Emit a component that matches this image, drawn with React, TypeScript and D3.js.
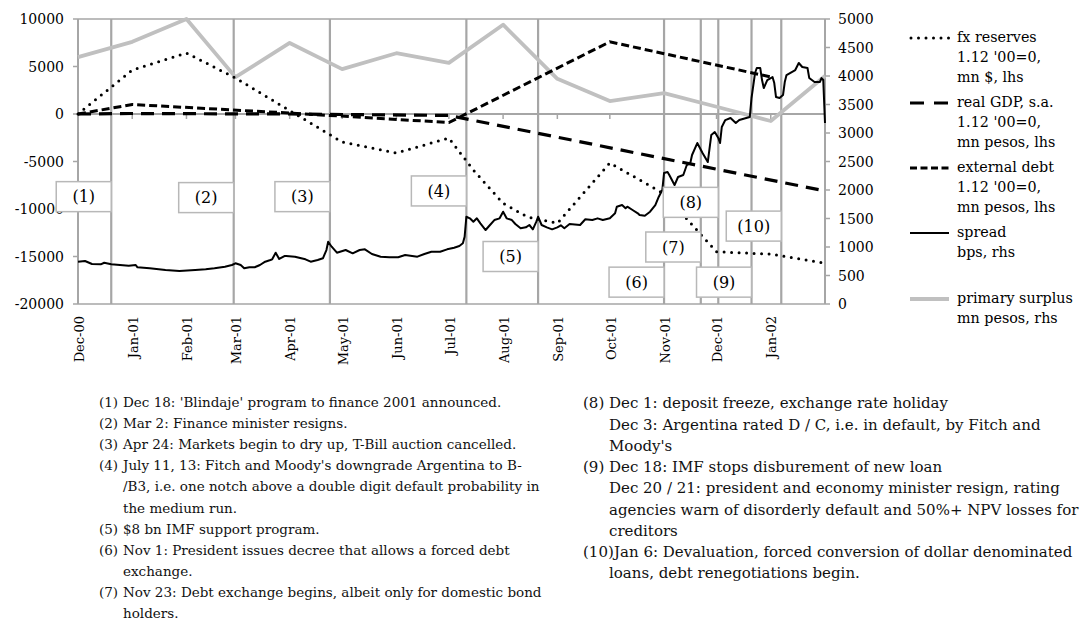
import React from "react";
import * as d3 from "d3";

// ---------- DATA ----------
const BASE = "2000-12-01";
const AXIS_END = "2002-02-01";

const xTickDates = ["2000-12-01","2001-01-01","2001-02-01","2001-03-01","2001-04-01","2001-05-01","2001-06-01","2001-07-01","2001-08-01","2001-09-01","2001-10-01","2001-11-01","2001-12-01","2002-01-01"];
const xTickLabels = ["Dec-00","Jan-01","Feb-01","Mar-01","Apr-01","May-01","Jun-01","Jul-01","Aug-01","Sep-01","Oct-01","Nov-01","Dec-01","Jan-02"];

const leftTicks = [-20000, -15000, -10000, -5000, 0, 5000, 10000];
const rightTicks = [0, 500, 1000, 1500, 2000, 2500, 3000, 3500, 4000, 4500, 5000];

// fx reserves, 1.12 '00 = 0, mn $ (lhs)
const fxDates = ["2000-12-01","2001-01-01","2001-02-01","2001-03-01","2001-04-01","2001-05-01","2001-06-01","2001-07-01","2001-07-15","2001-08-01","2001-08-15","2001-09-01","2001-10-01","2001-11-01","2001-12-01","2002-01-01","2002-02-01"];
const fxValues = [0, 4630, 6420, 3790, 360, -2950, -4100, -2530, -5900, -9400, -10850, -11500, -5150, -8400, -14500, -14750, -15700];

// real GDP, s.a., 1.12 '00 = 0, mn pesos (lhs)
const gdpDates = ["2000-12-01","2001-01-01","2001-04-01","2001-07-01","2002-02-01"];
const gdpValues = [0, 50, 0, -150, -8100];

// external debt, 1.12 '00 = 0, mn pesos (lhs)
const debtDates = ["2000-12-01","2001-01-01","2001-04-01","2001-07-01","2001-10-01","2002-01-01"];
const debtValues = [0, 1000, 100, -900, 7600, 3900];

// primary surplus, mn pesos (rhs)
const surplusDates = ["2000-12-01","2001-01-01","2001-02-01","2001-03-01","2001-04-01","2001-05-01","2001-06-01","2001-07-01","2001-08-01","2001-09-01","2001-10-01","2001-11-01","2001-12-01","2002-01-01","2002-02-01"];
const surplusValues = [4330, 4600, 5000, 3980, 4580, 4120, 4400, 4230, 4900, 3950, 3560, 3700, 3460, 3210, 4000];

// spread, bps (rhs): day offset from 1 Dec 2000
const spreadDays = [0,4,8,13,15,19,24,29,33,34,41,50,58,67,73,78,84,88,90,93,95,98,101,104,107,110,111,113,115,118,119,124,130,133,137,140,142,143,145,148,153,157,161,164,168,173,178,183,187,191,194,198,202,207,211,215,218,220,221,222,224,226,228,230,233,235,238,241,243,245,248,250,253,256,258,260,262,263,265,268,271,274,276,278,281,287,290,294,297,300,304,307,308,311,313,314,317,320,321,324,327,330,332,334,335,337,338,341,343,346,348,350,351,354,357,360,362,364,366,367,368,370,373,376,378,382,384,385,387,388,390,391,392,394,397,398,399,401,403,404,405,408,410,412,414,417,418,421,424,425,426,427];
const spreadValues = [742,754,702,696,724,696,684,672,684,644,626,596,579,596,609,626,654,684,714,684,626,644,644,684,742,772,784,900,790,842,842,830,784,742,772,802,947,1093,1005,900,947,889,947,959,877,830,819,819,859,842,830,877,917,917,959,987,1017,1065,1180,1531,1503,1444,1503,1415,1298,1368,1473,1503,1619,1503,1473,1403,1328,1345,1386,1310,1444,1531,1386,1345,1310,1345,1380,1330,1403,1386,1486,1473,1503,1473,1503,1591,1707,1736,1679,1707,1649,1591,1561,1549,1619,1736,1882,2000,2298,2315,2263,2087,2228,2263,2438,2473,2614,2824,2649,2491,2965,3017,2912,2824,3105,3227,3263,3175,3227,3263,3280,3614,4052,4140,4140,3929,3789,3929,3982,3876,3631,3614,3666,3894,4017,4070,4105,4228,4158,4140,3964,3894,3894,3964,3930,3175];

// event markers
const eventDates = ["2000-12-20","2001-02-28","2001-04-24","2001-07-11","2001-08-21","2001-11-01","2001-11-22","2001-12-02","2001-12-21","2002-01-07"];
const eventLabels = ["(1)","(2)","(3)","(4)","(5)","(6)","(7)","(8)","(9)","(10)"];
const eventBoxLevels = [-8700, -8800, -8700, -8100, -15000, -17700, -14000, -9300, -17700, -11800];

const legendItems = [
  { key: "fx", lines: ["fx reserves", "1.12 '00=0,", "mn $, lhs"] },
  { key: "gdp", lines: ["real GDP, s.a.", "1.12 '00=0,", "mn pesos, lhs"] },
  { key: "debt", lines: ["external debt", "1.12 '00=0,", "mn pesos, lhs"] },
  { key: "spread", lines: ["spread", "bps, rhs"] },
  { key: "surplus", lines: ["primary surplus", "mn pesos, rhs"] },
];

const notesLeft: [string, string[]][] = [
  ["(1)", ["Dec 18: 'Blindaje' program to finance 2001 announced."]],
  ["(2)", ["Mar 2: Finance minister resigns."]],
  ["(3)", ["Apr 24: Markets begin to dry up, T-Bill auction cancelled."]],
  ["(4)", ["July 11, 13: Fitch and Moody's downgrade Argentina to B-", "/B3, i.e. one notch above a double digit default probability in", "the medium run."]],
  ["(5)", ["$8 bn IMF support program."]],
  ["(6)", ["Nov 1: President issues decree that allows a forced debt", "exchange."]],
  ["(7)", ["Nov 23: Debt exchange begins, albeit only for domestic bond", "holders."]],
];
const notesRight: [string, string[]][] = [
  ["(8)", ["Dec 1: deposit freeze, exchange rate holiday", "Dec 3: Argentina rated D / C, i.e. in default, by Fitch and", "Moody's"]],
  ["(9)", ["Dec 18: IMF stops disburement of new loan", "Dec 20 / 21: president and economy minister resign, rating", "agencies warn of disorderly default and 50%+ NPV losses for", "creditors"]],
  ["(10)", ["Jan 6: Devaluation, forced conversion of dollar denominated", "loans, debt renegotiations begin."]],
];

// ---------- STYLE ----------
const FONT = "'DejaVu Serif', serif";
const GRID = "#a6a6a6";
const SURPLUS = "#c0c0c0";

const parse = d3.utcParse("%Y-%m-%d");

export default function App() {
  const L = 78, R = 825, T = 19, B = 304;
  const x = d3.scaleUtc().domain([parse(BASE)!, parse(AXIS_END)!]).range([L, R]);
  const yL = d3.scaleLinear().domain([-20000, 10000]).range([B, T]);
  const yR = d3.scaleLinear().domain([0, 5000]).range([B, T]);

  const lineL = d3.line<[Date, number]>().x(d => x(d[0])).y(d => yL(d[1]));
  const lineR = d3.line<[Date, number]>().x(d => x(d[0])).y(d => yR(d[1]));

  const zip = (ds: string[], vs: number[]) => ds.map((d, i) => [parse(d)!, vs[i]] as [Date, number]);
  const base = parse(BASE)!;
  const spread = spreadDays.map((d, i) => [d3.utcDay.offset(base, d), spreadValues[i]] as [Date, number]);

  const y0 = yL(0);

  const legendX0 = 910, legendX1 = 949, legendTX = 957;
  const legendStarts = [37, 102, 167, 232, 298];
  const legendLH = 20;

  const renderNotes = (notes: [string, string[]][], nx: number, tx: number, top: number, lh: number, tx10: number) => {
    let r = 0;
    const out: JSX.Element[] = [];
    notes.forEach(([num, lines], i) => {
      lines.forEach((ln, j) => {
        const yy = top + (r + j) * lh;
        if (j === 0) out.push(<text key={`n${i}`} x={nx} y={yy} dy="0.36em">{num}</text>);
        out.push(<text key={`t${i}-${j}`} x={num === "(10)" && j === 0 ? tx10 : tx} y={yy} dy="0.36em">{ln}</text>);
      });
      r += lines.length;
    });
    return out;
  };

  return (
    <div style={{ position: "absolute", left: 0, top: 0 }}>
      <svg width={1091} height={620} style={{ display: "block", background: "#fff" }} fontFamily={FONT}>
        {/* plot frame */}
        <line x1={L} x2={R} y1={T} y2={T} stroke={GRID} strokeWidth={1.5} />
        <line x1={L} x2={R} y1={B} y2={B} stroke={GRID} strokeWidth={1.5} />
        <line x1={L} x2={L} y1={T} y2={B} stroke={GRID} strokeWidth={2} />
        <line x1={R} x2={R} y1={T} y2={B} stroke={GRID} strokeWidth={2} />
        {/* zero axis */}
        <line x1={L} x2={R} y1={y0} y2={y0} stroke={GRID} strokeWidth={2} />
        {xTickDates.slice(1).map(d => (
          <line key={d} x1={x(parse(d)!)} x2={x(parse(d)!)} y1={y0} y2={y0 + 5} stroke={GRID} strokeWidth={1.5} />
        ))}
        {/* left axis */}
        {leftTicks.map(v => (
          <g key={v}>
            <line x1={L - 5} x2={L} y1={yL(v)} y2={yL(v)} stroke={GRID} strokeWidth={1.5} />
            <text x={64} y={yL(v)} dy="0.36em" textAnchor="end" fontSize={14} fill="#000">{v}</text>
          </g>
        ))}
        {/* right axis */}
        {rightTicks.map(v => (
          <g key={v}>
            <line x1={R} x2={R + 5} y1={yR(v)} y2={yR(v)} stroke={GRID} strokeWidth={1.5} />
            <text x={838} y={yR(v)} dy="0.36em" textAnchor="start" fontSize={14} fill="#000">{v}</text>
          </g>
        ))}
        {/* x labels */}
        {xTickDates.map((d, i) => (
          <text key={d} transform={`translate(${x(parse(d)!) + 1},${316}) rotate(-90)`} textAnchor="end" dy="0.36em" fontSize={13}>{xTickLabels[i]}</text>
        ))}
        {/* event lines */}
        {eventDates.map(d => (
          <line key={d} x1={x(parse(d)!)} x2={x(parse(d)!)} y1={T} y2={B} stroke={GRID} strokeWidth={2.2} />
        ))}
        {/* series */}
        <path d={lineR(zip(surplusDates, surplusValues))!} fill="none" stroke={SURPLUS} strokeWidth={3.8} strokeLinejoin="round" />
        <path d={lineL(zip(gdpDates, gdpValues))!} fill="none" stroke="#000" strokeWidth={3.2} strokeDasharray="13 8" />
        <path d={lineL(zip(debtDates, debtValues))!} fill="none" stroke="#000" strokeWidth={3} strokeDasharray="8 4" />
        <path d={lineL(zip(fxDates, fxValues))!} fill="none" stroke="#000" strokeWidth={3} strokeDasharray="0 7.5" strokeLinecap="round" />
        <path d={lineR(spread)!} fill="none" stroke="#000" strokeWidth={2} strokeLinejoin="round" />
        {/* event boxes */}
        {eventDates.map((d, i) => {
          const ex = x(parse(d)!);
          const cy = yL(eventBoxLevels[i]);
          return (
            <g key={`b${d}`}>
              <rect x={ex - 55} y={cy - 15} width={55} height={30} fill="#fff" stroke="#b8b8b8" strokeWidth={1.5} />
              <text x={ex - 27.5} y={cy} dy="0.36em" textAnchor="middle" fontSize={16}>{eventLabels[i]}</text>
            </g>
          );
        })}
        {/* legend */}
        {legendItems.map((it, i) => {
          const ly = legendStarts[i];
          const sy = ly + 1;
          let sample: JSX.Element;
          if (it.key === "fx") sample = <line x1={legendX0 + 1} x2={legendX1} y1={sy} y2={sy} stroke="#000" strokeWidth={3} strokeDasharray="0 7.5" strokeLinecap="round" />;
          else if (it.key === "gdp") sample = <line x1={legendX0} x2={legendX1} y1={sy} y2={sy} stroke="#000" strokeWidth={3.2} strokeDasharray="14 10" />;
          else if (it.key === "debt") sample = <line x1={legendX0} x2={legendX1} y1={sy} y2={sy} stroke="#000" strokeWidth={3} strokeDasharray="7 3.5" />;
          else if (it.key === "spread") sample = <line x1={legendX0} x2={legendX1} y1={sy} y2={sy} stroke="#000" strokeWidth={2} />;
          else sample = <line x1={legendX0} x2={legendX1} y1={sy} y2={sy} stroke={SURPLUS} strokeWidth={3.8} />;
          return (
            <g key={it.key}>
              {sample}
              {it.lines.map((t, j) => (
                <text key={j} x={legendTX} y={ly + j * legendLH} dy="0.36em" fontSize={14.3}>{t}</text>
              ))}
            </g>
          );
        })}
        {/* notes */}
        <g fontSize={13.5} fill="#111">
          {renderNotes(notesLeft, 99, 123, 402, 21.15, 0)}
        </g>
        <g fontSize={15} fill="#111">
          {renderNotes(notesRight, 583, 609, 403, 21.25, 614)}
        </g>
      </svg>
    </div>
  );
}
